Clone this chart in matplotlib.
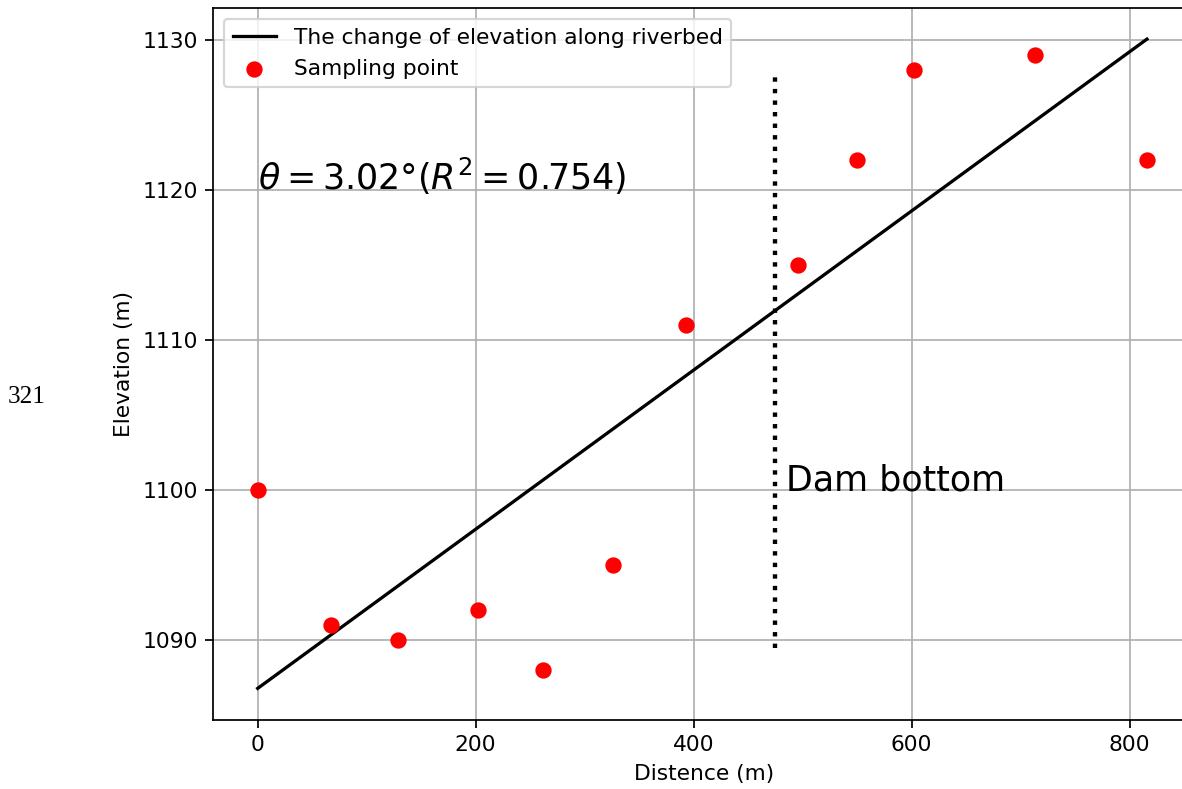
import matplotlib
matplotlib.use("Agg")
import matplotlib.pyplot as plt
import numpy as np

# sampling points
distance = [0, 67, 129, 202, 262, 326, 393, 496, 550, 602, 713, 816]
elevation = [1100, 1091, 1090, 1092, 1088, 1095, 1111, 1115, 1122, 1128, 1129, 1122]

dam_x = 475
dam_ymin, dam_ymax = 1089.5, 1127.5

x = np.array(distance)
y = np.array(elevation)
k, b = np.polyfit(x, y, 1)
xs = np.array([x.min(), x.max()])

DPI = 157
fig = plt.figure(figsize=(1182 / DPI, 789 / DPI), dpi=DPI)
ax = fig.add_axes([213 / 1182, 1 - 720 / 789, (1196 - 213) / 1182, (720 - 8) / 789])

ax.plot(xs, k * xs + b, color="black", lw=1.5, label="The change of elevation along riverbed")
ax.scatter(x, y, color="red", s=42, zorder=3, label="Sampling point")
ax.vlines(dam_x, dam_ymin, dam_ymax, colors="black", linestyles=":", lw=2)

ax.text(0, 1120, r"$\theta = 3.02°(R^2 = 0.754)$", fontsize=16)
ax.text(485, 1100, "Dam bottom", fontsize=16)

ax.set_xlim(-41, 861)
ax.set_ylim(1084.7, 1132.1)
ax.set_xticks([0, 200, 400, 600, 800])
ax.set_yticks([1090, 1100, 1110, 1120, 1130])
ax.grid(True, color="#b0b0b0", lw=0.8)
ax.set_axisbelow(True)
ax.set_xlabel("Distence (m)")
ax.set_ylabel("Elevation (m)")
ax.legend(loc="upper left")

fig.text(8 / 1182, 1 - 397 / 789, "321", family="Liberation Serif", fontsize=11.5, va="center")

fig.savefig("out.png", dpi=DPI)
